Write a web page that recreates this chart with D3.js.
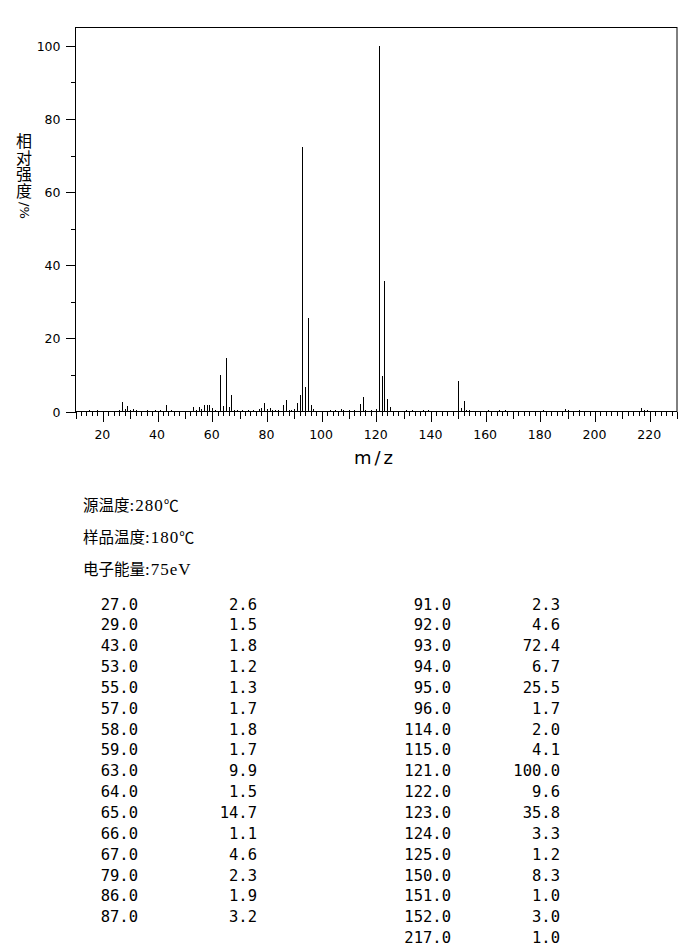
<!DOCTYPE html>
<html lang="zh">
<head>
  <meta charset="UTF-8">
  <title>质谱图</title>
  <style>
    body {
      margin: 0;
      background: #fff;
    }
    svg text {
      fill: #000;
    }
  </style>
</head>
<body>
  <div id="chart"></div>

  <script src="https://d3js.org/d3.v7.min.js"></script>
  <script>
    // peaks (m/z, relative intensity %)
    const mz = [15, 18, 26, 27, 28, 29, 30, 31, 32, 36, 39, 41, 43, 45,
      53, 54, 55, 56, 57, 58, 59, 60, 61, 63, 64, 65, 66, 67, 68, 69, 71, 73, 75,
      77, 78, 79, 80, 81, 82, 83, 84, 86, 87, 88, 89, 90, 91, 92, 93, 94, 95, 96, 97,
      103, 105, 107, 108, 110, 112, 114, 115, 116, 118, 120, 121, 122, 123, 124, 125,
      131, 133, 137, 139, 150, 151, 152, 153, 154, 161, 165, 167,
      181, 189, 190, 194, 217, 218, 219, 223];
    const intensity = [0.3, 0.3, 0.5, 2.6, 0.7, 1.5, 0.4, 0.7, 0.3, 0.3, 0.5, 0.5, 1.8, 0.3,
      1.2, 0.3, 1.3, 0.6, 1.7, 1.8, 1.7, 0.9, 0.3, 9.9, 1.5, 14.7, 1.1, 4.6, 0.4, 0.4, 0.4, 0.4, 0.4,
      0.6, 0.9, 2.3, 0.6, 0.9, 0.4, 0.4, 0.4, 1.9, 3.2, 0.4, 0.4, 0.6, 2.3, 4.6, 72.4, 6.7, 25.5, 1.7, 0.6,
      0.4, 0.4, 0.6, 0.4, 0.4, 0.4, 2.0, 4.1, 0.4, 0.4, 0.6, 100.0, 9.6, 35.8, 3.3, 1.2,
      0.4, 0.4, 0.4, 0.4, 8.3, 1.0, 3.0, 0.4, 0.3, 0.3, 0.5, 0.5,
      0.5, 0.7, 0.4, 0.4, 1.0, 0.5, 0.4, 0.2];

    const xTicks = [20, 40, 60, 80, 100, 120, 140, 160, 180, 200, 220];
    const yTicks = [0, 20, 40, 60, 80, 100];

    const conditionLabels = ["源温度", "样品温度", "电子能量"];
    const conditionValues = ["280", "180", "75eV"];
    const conditionUnits = ["℃", "℃", ""];
    const yLabelText = "相对强度";
    const yLabelUnit = "/%";
    const xLabel = "m/z";

    const peaks = mz.map((m, i) => ({ mz: m, value: intensity[i] }));
    // the listing shows every peak of 1% and up, split over two columns
    const listed = peaks.filter(d => d.value >= 1.0);
    const leftRows = listed.slice(0, 16);
    const rightRows = listed.slice(16);

    const width = 687, height = 946;
    const svg = d3.select("#chart").append("svg")
      .attr("width", width)
      .attr("height", height);

    const x = d3.scaleLinear().domain([10, 230]).range([75.5, 677]);
    const y = d3.scaleLinear().domain([0, 105]).range([411.5, 27.5]);

    // frame
    svg.append("rect")
      .attr("x", 75.5).attr("y", 27.5)
      .attr("width", 677 - 75.5).attr("height", 411.5 - 27.5)
      .attr("fill", "none").attr("stroke", "#000").attr("stroke-width", 1);

    // x axis: minor every 2, mid every 20 offset 10, major with labels
    const range = (a, b, s) => d3.range(a, b + 0.001, s);
    svg.append("g")
      .attr("transform", "translate(0,411.5)")
      .call(d3.axisBottom(x).tickValues(range(10, 230, 2)).tickSize(4.5).tickSizeOuter(0).tickFormat(""))
      .call(g => g.select(".domain").remove());
    svg.append("g")
      .attr("transform", "translate(0,411.5)")
      .call(d3.axisBottom(x).tickValues(range(10, 230, 20)).tickSize(7).tickSizeOuter(0).tickFormat(""))
      .call(g => g.select(".domain").remove());
    const gx = svg.append("g")
      .attr("transform", "translate(0,411.5)")
      .call(d3.axisBottom(x).tickValues(xTicks).tickSize(10).tickSizeOuter(0));
    gx.select(".domain").remove();
    gx.selectAll("text")
      .attr("x", -1)
      .attr("y", 27.5).attr("dy", 0)
      .attr("font-family", "DejaVu Sans").attr("font-size", 12.5);

    // y axis
    svg.append("g")
      .attr("transform", "translate(75.5,0)")
      .call(d3.axisLeft(y).tickValues([10, 30, 50, 70, 90]).tickSize(5).tickSizeOuter(0).tickFormat(""))
      .call(g => g.select(".domain").remove());
    const gy = svg.append("g")
      .attr("transform", "translate(75.5,0)")
      .call(d3.axisLeft(y).tickValues(yTicks).tickSize(10).tickSizeOuter(0));
    gy.select(".domain").remove();
    gy.selectAll("text")
      .attr("x", -15).attr("dy", "0.36em")
      .attr("font-family", "DejaVu Sans").attr("font-size", 12.5);

    svg.selectAll(".tick line").attr("stroke", "#000").attr("shape-rendering", "crispEdges");

    // peaks
    svg.append("g")
      .selectAll("line")
      .data(peaks)
      .join("line")
      .attr("x1", d => Math.round(x(d.mz)) + 0.5)
      .attr("x2", d => Math.round(x(d.mz)) + 0.5)
      .attr("y1", y(0))
      .attr("y2", d => y(d.value))
      .attr("stroke", "#000")
      .attr("stroke-width", 1)
      .attr("shape-rendering", "crispEdges");

    // axis titles
    svg.append("text")
      .attr("x", 375).attr("y", 464)
      .attr("text-anchor", "middle")
      .attr("font-family", "DejaVu Sans").attr("font-size", 18)
      .attr("letter-spacing", 3)
      .text(xLabel);

    // y title: CJK stacked upright, "/%" turned on its side
    svg.append("text")
      .attr("x", 24).attr("y", 133)
      .attr("writing-mode", "vertical-rl")
      .attr("font-family", "Noto Sans CJK SC")
      .attr("font-size", 16)
      .attr("letter-spacing", 0.7)
      .text(yLabelText);
    svg.append("text")
      .attr("transform", "translate(24,202) rotate(90)")
      .attr("dominant-baseline", "central")
      .attr("font-family", "DejaVu Sans")
      .attr("font-size", 13)
      .text(yLabelUnit);

    // run conditions
    const cond = svg.append("g")
      .selectAll("text")
      .data(conditionLabels)
      .join("text")
      .attr("x", 83)
      .attr("y", (d, i) => 511 + i * 32);
    cond.append("tspan")
      .attr("font-family", "Noto Sans CJK SC")
      .attr("font-size", 15.5)
      .text(d => d);
    cond.append("tspan")
      .attr("font-family", "Liberation Serif")
      .attr("font-size", 17)
      .attr("letter-spacing", 1)
      .text((d, i) => ":" + conditionValues[i]);
    cond.append("tspan")
      .attr("font-family", "Noto Sans CJK SC")
      .attr("font-size", 15)
      .text((d, i) => conditionUnits[i]);

    // peak listing
    function listColumn(rows, xMz, xVal) {
      const g = svg.append("g")
        .attr("font-family", "DejaVu Sans Mono")
        .attr("font-size", 15.5)
        .attr("text-anchor", "end");
      g.selectAll(".m")
        .data(rows)
        .join("text")
        .attr("x", xMz)
        .attr("y", (d, i) => 609.5 + i * 20.85)
        .text(d => d.mz.toFixed(1));
      g.selectAll(".v")
        .data(rows)
        .join("text")
        .attr("x", xVal)
        .attr("y", (d, i) => 609.5 + i * 20.85)
        .text(d => d.value.toFixed(1));
    }
    listColumn(leftRows, 138, 257);
    listColumn(rightRows, 451, 560);
  </script>
</body>
</html>
